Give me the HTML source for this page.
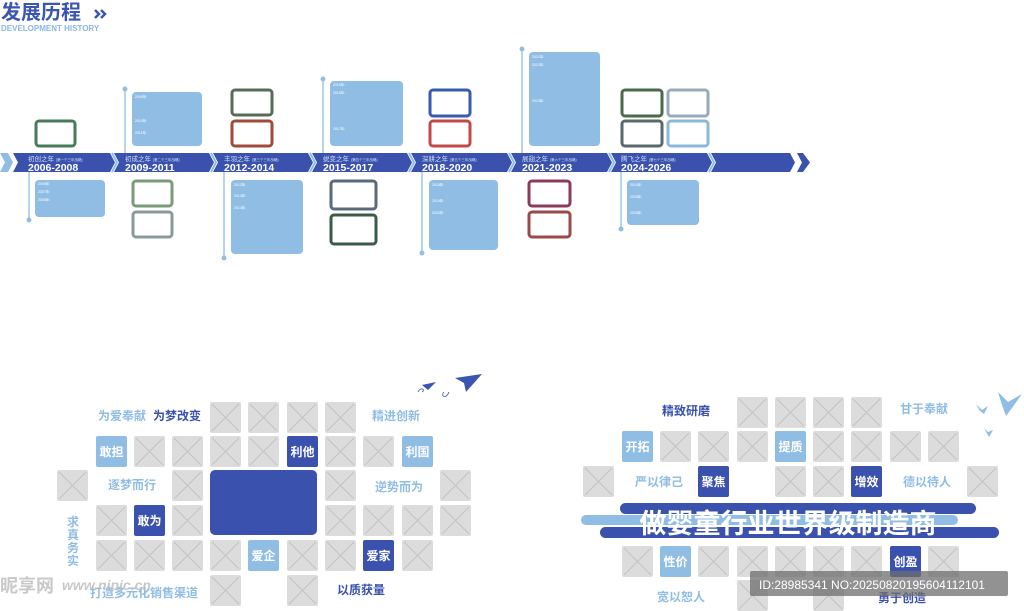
<!DOCTYPE html>
<html><head><meta charset="utf-8"><style>
html,body{margin:0;padding:0;background:#fff;width:1024px;height:611px;overflow:hidden}
svg{display:block}
text{font-family:"Liberation Sans","Noto Sans CJK SC",sans-serif}
</style></head><body>
<svg width="1024" height="611" viewBox="0 0 1024 611" xmlns="http://www.w3.org/2000/svg">
<defs>
<g id="ph"><rect x="0" y="0" width="31" height="31" rx="2" fill="#dcdcdc"/><path d="M2 2L29 29M29 2L2 29" stroke="#c3c3c3" stroke-width="1"/></g>
</defs>
<!-- title -->
<text x="1" y="19" font-size="20" font-weight="bold" fill="#3a56b0">发展历程</text>
<path d="M95 10l4 4-4 4M101 10l4 4-4 4" stroke="#3a56b0" stroke-width="2.5" fill="none"/>
<text x="1" y="31" font-size="8" font-weight="bold" fill="#8ab8e0">DEVELOPMENT HISTORY</text>

<!-- timeline band -->
<polygon points="0,153 8,153 13,162.5 8,172 0,172 5,162.5" fill="#8fbde4"/>
<g fill="#3a51ad">
<polygon points="13,153 110,153 115,162.5 110,172 13,172 18,162.5"/>
<polygon points="114,153 209,153 214,162.5 209,172 114,172 119,162.5"/>
<polygon points="213,153 308,153 313,162.5 308,172 213,172 218,162.5"/>
<polygon points="312,153 407,153 412,162.5 407,172 312,172 317,162.5"/>
<polygon points="411,153 507,153 512,162.5 507,172 411,172 416,162.5"/>
<polygon points="511,153 607,153 612,162.5 607,172 511,172 516,162.5"/>
<polygon points="611,153 707,153 712,162.5 707,172 611,172 616,162.5"/>
<polygon points="711,153 790,153 795,162.5 790,172 711,172 716,162.5"/>
<polygon points="797,153 803,153 810,162.5 803,172 797,172 802,162.5"/>
</g>
<g stroke="#8fbde4" stroke-width="2" fill="none">
<path d="M112,153 117,162.5 112,172"/><path d="M211,153 216,162.5 211,172"/><path d="M310,153 315,162.5 310,172"/>
<path d="M409,153 414,162.5 409,172"/><path d="M509,153 514,162.5 509,172"/><path d="M609,153 614,162.5 609,172"/><path d="M709,153 714,162.5 709,172"/>
</g>
<g fill="#fff">
<text x="28" y="161" font-size="6.5" fill="#cfe0f5">初创之年 <tspan font-size="3.5">(第一个三年战略)</tspan></text>
<text x="28" y="171" font-size="10.5" font-weight="bold">2006-2008</text>
<text x="125" y="161" font-size="6.5" fill="#cfe0f5">初成之年 <tspan font-size="3.5">(第二个三年战略)</tspan></text>
<text x="125" y="171" font-size="10.5" font-weight="bold">2009-2011</text>
<text x="224" y="161" font-size="6.5" fill="#cfe0f5">丰羽之年 <tspan font-size="3.5">(第三个三年战略)</tspan></text>
<text x="224" y="171" font-size="10.5" font-weight="bold">2012-2014</text>
<text x="323" y="161" font-size="6.5" fill="#cfe0f5">蜕变之年 <tspan font-size="3.5">(第四个三年战略)</tspan></text>
<text x="323" y="171" font-size="10.5" font-weight="bold">2015-2017</text>
<text x="422" y="161" font-size="6.5" fill="#cfe0f5">深耕之年 <tspan font-size="3.5">(第五个三年战略)</tspan></text>
<text x="422" y="171" font-size="10.5" font-weight="bold">2018-2020</text>
<text x="522" y="161" font-size="6.5" fill="#cfe0f5">展翅之年 <tspan font-size="3.5">(第六个三年战略)</tspan></text>
<text x="522" y="171" font-size="10.5" font-weight="bold">2021-2023</text>
<text x="621" y="161" font-size="6.5" fill="#cfe0f5">腾飞之年 <tspan font-size="3.5">(第七个三年战略)</tspan></text>
<text x="621" y="171" font-size="10.5" font-weight="bold">2024-2026</text>
</g>

<!-- vertical lines -->
<g stroke="#8fbde4" stroke-width="1.3" fill="#8fbde4">
<line x1="29" y1="172" x2="29" y2="220"/><circle cx="29" cy="220" r="1.8"/>
<line x1="125" y1="89" x2="125" y2="153"/><circle cx="125" cy="89" r="1.8"/>
<line x1="224" y1="172" x2="224" y2="258"/><circle cx="224" cy="258" r="1.8"/>
<line x1="323" y1="79" x2="323" y2="153"/><circle cx="323" cy="79" r="1.8"/>
<line x1="422" y1="172" x2="422" y2="253"/><circle cx="422" cy="253" r="1.8"/>
<line x1="522" y1="49" x2="522" y2="153"/><circle cx="522" cy="49" r="1.8"/>
<line x1="621" y1="172" x2="621" y2="229"/><circle cx="621" cy="229" r="1.8"/>
</g>
<!-- cards -->
<g fill="#8fbde4">
<rect x="35" y="180" width="70" height="37" rx="4"/>
<rect x="132" y="92" width="70" height="54" rx="4"/>
<rect x="231" y="180" width="72" height="74" rx="4"/>
<rect x="330" y="81" width="73" height="65" rx="4"/>
<rect x="429" y="180" width="69" height="70" rx="4"/>
<rect x="529" y="52" width="71" height="94" rx="4"/>
<rect x="627" y="180" width="72" height="45" rx="4"/>
</g>
<g font-size="3.5" fill="#fff">
<text x="38" y="185">2006年:</text><text x="38" y="193">2007年:</text><text x="38" y="201">2008年:</text>
<text x="135" y="98">2009年:</text><text x="135" y="122">2010年:</text><text x="135" y="134">2011年:</text>
<text x="234" y="186">2012年:</text><text x="234" y="197">2013年:</text><text x="234" y="209">2014年:</text>
<text x="333" y="86">2015年:</text><text x="333" y="94">2016年:</text><text x="333" y="130">2017年:</text>
<text x="432" y="186">2018年:</text><text x="432" y="202">2019年:</text><text x="432" y="214">2020年:</text>
<text x="532" y="58">2021年:</text><text x="532" y="66">2022年:</text><text x="532" y="102">2023年:</text>
<text x="630" y="186">2024年:</text><text x="630" y="198">2025年:</text><text x="630" y="214">2026年:</text>
</g>
<!-- photo frames -->
<g fill="#fff" stroke-width="3">
<rect x="36" y="121" width="39" height="25" rx="3" stroke="#4a7a5c"/>
<rect x="133" y="181" width="39" height="25" rx="3" stroke="#7a9a7a"/>
<rect x="133" y="212" width="39" height="25" rx="3" stroke="#8a9a9a"/>
<rect x="232" y="90" width="40" height="25" rx="3" stroke="#5a6a5a"/>
<rect x="232" y="121" width="40" height="25" rx="3" stroke="#a04a3a"/>
<rect x="331" y="181" width="45" height="28" rx="3" stroke="#5a6a7a"/>
<rect x="331" y="215" width="45" height="29" rx="3" stroke="#3a5a4a"/>
<rect x="430" y="90" width="40" height="26" rx="3" stroke="#3a5ab0"/>
<rect x="430" y="121" width="40" height="25" rx="3" stroke="#c04a4a"/>
<rect x="529" y="181" width="41" height="25" rx="3" stroke="#8a3a5a"/>
<rect x="529" y="212" width="41" height="25" rx="3" stroke="#9a4a4a"/>
<rect x="622" y="90" width="40" height="26" rx="3" stroke="#4a6a4a"/>
<rect x="668" y="90" width="40" height="26" rx="3" stroke="#9aaabb"/>
<rect x="622" y="121" width="40" height="25" rx="3" stroke="#5a6a6a"/>
<rect x="668" y="121" width="40" height="25" rx="3" stroke="#8ab8d8"/>
</g>

<!-- LEFT GRID -->
<g>
<use href="#ph" x="210" y="402"/><use href="#ph" x="248" y="402"/><use href="#ph" x="287" y="402"/><use href="#ph" x="325" y="402"/>
<use href="#ph" x="134" y="436"/><use href="#ph" x="172" y="436"/><use href="#ph" x="210" y="436"/><use href="#ph" x="248" y="436"/><use href="#ph" x="325" y="436"/><use href="#ph" x="363" y="436"/>
<use href="#ph" x="57" y="470"/><use href="#ph" x="172" y="470"/><use href="#ph" x="325" y="470"/><use href="#ph" x="440" y="470"/>
<use href="#ph" x="96" y="505"/><use href="#ph" x="172" y="505"/><use href="#ph" x="325" y="505"/><use href="#ph" x="363" y="505"/><use href="#ph" x="402" y="505"/><use href="#ph" x="440" y="505"/>
<use href="#ph" x="96" y="540"/><use href="#ph" x="134" y="540"/><use href="#ph" x="172" y="540"/><use href="#ph" x="210" y="540"/><use href="#ph" x="287" y="540"/><use href="#ph" x="325" y="540"/><use href="#ph" x="402" y="540"/>
<use href="#ph" x="210" y="575"/><use href="#ph" x="287" y="575"/>
</g>
<rect x="210" y="470" width="107" height="65" rx="5" fill="#3a51ad"/>
<g font-size="12" font-weight="bold" fill="#fff" text-anchor="middle">
<rect x="96" y="436" width="31" height="31" rx="2" fill="#8fbde4"/><text x="111.5" y="456">敢担</text>
<rect x="287" y="436" width="31" height="31" rx="2" fill="#3a51ad"/><text x="302.5" y="456">利他</text>
<rect x="402" y="436" width="31" height="31" rx="2" fill="#8fbde4"/><text x="417.5" y="456">利国</text>
<rect x="134" y="505" width="31" height="31" rx="2" fill="#3a51ad"/><text x="149.5" y="525">敢为</text>
<rect x="248" y="540" width="31" height="31" rx="2" fill="#8fbde4"/><text x="263.5" y="560">爱企</text>
<rect x="363" y="540" width="31" height="31" rx="2" fill="#3a51ad"/><text x="378.5" y="560">爱家</text>
</g>
<g font-size="12" font-weight="bold">
<text x="98" y="420" fill="#8fbde4">为爱奉献</text>
<text x="153" y="420" fill="#3a51ad">为梦改变</text>
<text x="372" y="420" fill="#8fbde4">精进创新</text>
<text x="108" y="489" fill="#8fbde4">逐梦而行</text>
<text x="375" y="491" fill="#8fbde4">逆势而为</text>
<text x="90" y="597" fill="#8fbde4">打造多元化销售渠道</text>
<text x="337" y="594" fill="#3a51ad">以质获量</text>
</g>
<g font-size="12" font-weight="bold" fill="#8fbde4" text-anchor="middle">
<text x="73" y="526">求</text><text x="73" y="539">真</text><text x="73" y="552">务</text><text x="73" y="565">实</text>
</g>
<!-- paper planes -->
<g fill="#3a56b0">
<polygon points="455,378 482,374 466,392 464,383"/>
<polygon points="422,385 436,382 428,390"/>
</g>
<path d="M418,392 c3,-6 8,-2 4,0 M444,392 c-4,4 2,8 5,0" stroke="#3a56b0" stroke-width="0.8" fill="none"/>

<!-- RIGHT GRID -->
<g>
<use href="#ph" x="737" y="397"/><use href="#ph" x="775" y="397"/><use href="#ph" x="813" y="397"/><use href="#ph" x="851" y="397"/>
<use href="#ph" x="660" y="431"/><use href="#ph" x="698" y="431"/><use href="#ph" x="737" y="431"/><use href="#ph" x="813" y="431"/><use href="#ph" x="851" y="431"/><use href="#ph" x="890" y="431"/><use href="#ph" x="928" y="431"/>
<use href="#ph" x="583" y="466"/><use href="#ph" x="775" y="466"/><use href="#ph" x="813" y="466"/><use href="#ph" x="967" y="466"/>
<use href="#ph" x="622" y="546"/><use href="#ph" x="698" y="546"/><use href="#ph" x="737" y="546"/><use href="#ph" x="775" y="546"/><use href="#ph" x="813" y="546"/><use href="#ph" x="851" y="546"/><use href="#ph" x="928" y="546"/>
<use href="#ph" x="737" y="580"/><use href="#ph" x="813" y="580"/>
</g>
<g font-size="12" font-weight="bold" fill="#fff" text-anchor="middle">
<rect x="622" y="431" width="31" height="31" rx="2" fill="#8fbde4"/><text x="637.5" y="451">开拓</text>
<rect x="775" y="431" width="31" height="31" rx="2" fill="#8fbde4"/><text x="790.5" y="451">提质</text>
<rect x="698" y="466" width="31" height="31" rx="2" fill="#3a51ad"/><text x="713.5" y="486">聚焦</text>
<rect x="851" y="466" width="31" height="31" rx="2" fill="#3a51ad"/><text x="866.5" y="486">增效</text>
<rect x="660" y="546" width="31" height="31" rx="2" fill="#8fbde4"/><text x="675.5" y="566">性价</text>
<rect x="890" y="546" width="31" height="31" rx="2" fill="#3a51ad"/><text x="905.5" y="566">创盈</text>
</g>
<g font-size="12" font-weight="bold">
<text x="662" y="415" fill="#3a51ad">精致研磨</text>
<text x="900" y="413" fill="#8fbde4">甘于奉献</text>
<text x="635" y="486" fill="#8fbde4">严以律己</text>
<text x="903" y="486" fill="#8fbde4">德以待人</text>
<text x="657" y="601" fill="#8fbde4">宽以恕人</text>
<text x="878" y="602" fill="#3a51ad">勇于创造</text>
</g>
<!-- slogan band -->
<rect x="620" y="503" width="356" height="11" rx="5.5" fill="#3a51ad"/>
<rect x="581" y="515" width="377" height="10" rx="5" fill="#8fbde4"/>
<rect x="600" y="527" width="399" height="11" rx="5.5" fill="#3a51ad"/>
<text x="788" y="533" font-size="27" font-weight="bold" fill="#fff" text-anchor="middle">做婴童行业世界级制造商</text>
<!-- birds -->
<g fill="#8fbde4">
<polygon points="998,392 1008,402 1022,394 1012,408 1006,416 1002,405"/>
<polygon points="976,404 982,410 988,406 984,414 980,411"/>
<polygon points="984,428 988,432 993,430 989,437"/>
</g>

<!-- watermarks -->
<rect x="750" y="571" width="258" height="25" rx="2" fill="#6e6e6e" opacity="0.75"/>
<text x="759" y="589" font-size="12" fill="#fff">ID:28985341 NO:20250820195604112101</text>
<text x="0" y="592" font-size="18" font-weight="bold" fill="#bbb" opacity="0.8">昵享网</text>
<text x="62" y="590" font-size="14" font-style="italic" font-weight="bold" fill="#bbb" opacity="0.8">www.nipic.cn</text>
</svg>
</body></html>
